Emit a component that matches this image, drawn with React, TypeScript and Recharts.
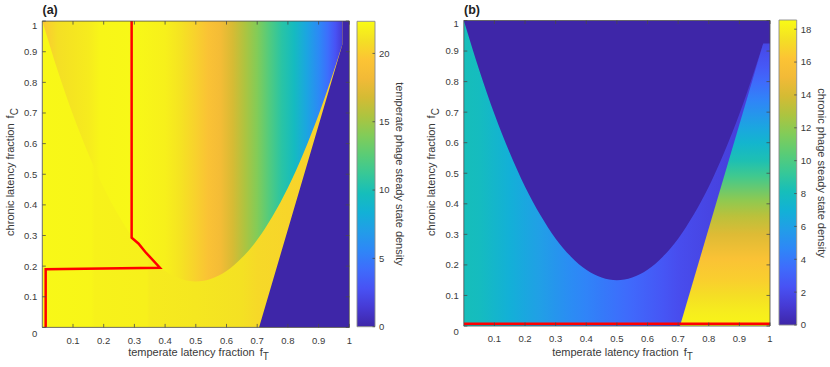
import React from 'react';
import { ComposedChart, Area, Line, XAxis, YAxis, ReferenceLine } from 'recharts';

// ---------------- data ----------------
// boundary of the "high chronic latency" region (same in both panels)
const parabolaX = [0, 0.05, 0.1, 0.15, 0.2, 0.25, 0.3, 0.35, 0.4, 0.45, 0.5, 0.55, 0.6, 0.65, 0.7, 0.75, 0.8, 0.85, 0.9, 0.95, 0.978];
const parabolaY = [1.0, 0.839, 0.694, 0.567, 0.456, 0.363, 0.286, 0.227, 0.184, 0.159, 0.15, 0.159, 0.184, 0.227, 0.286, 0.363, 0.456, 0.567, 0.694, 0.839, 0.925];
// straight boundary (lower right region)
const cutLineX = [0.706, 0.978];
const cutLineY = [0, 0.925];

const xTicks = [0.1, 0.2, 0.3, 0.4, 0.5, 0.6, 0.7, 0.8, 0.9, 1];
const yTicks = [0, 0.1, 0.2, 0.3, 0.4, 0.5, 0.6, 0.7, 0.8, 0.9, 1];

// panel (a): temperate phage density
const aInsideX = [0, 0.02, 0.05, 0.1, 0.15, 0.19, 0.3, 0.4, 0.45, 0.5, 0.54, 0.58, 0.62, 0.66, 0.7, 0.74, 0.78, 0.82, 0.86, 0.9, 0.93, 0.955, 0.978];
const aInsideV = [19.6, 20.2, 20.9, 21.2, 21.5, 22.1, 22.2, 21.8, 21.1, 20.2, 19.3, 18.4, 16.9, 15.4, 14.0, 12.2, 10.6, 9.5, 7.6, 5.8, 4.3, 2.8, 1.4];
const aOutsideX = [0, 0.16, 0.17, 0.34, 0.35, 0.5, 0.65, 0.7, 0.8, 0.95, 1];
const aOutsideV = [22.2, 22.1, 21.9, 21.8, 21.5, 21.3, 21.0, 20.6, 20.4, 20.2, 20.2];
const aDarkV = 0;
const aContourX = [0.011, 0.011, 0.383, 0.335, 0.313, 0.291, 0.291];
const aContourY = [0, 0.19, 0.195, 0.247, 0.274, 0.293, 1];
const aColorMax = 22.35;
const aColorTicks = [0, 5, 10, 15, 20];

// panel (b): chronic phage density
const bOutsideX = [0, 0.05, 0.1, 0.15, 0.2, 0.25, 0.3, 0.35, 0.4, 0.45, 0.5, 0.55, 0.6, 0.65, 0.7, 0.8, 0.9, 0.978];
const bOutsideV = [8.1, 7.9, 7.4, 6.9, 6.4, 5.9, 5.4, 4.9, 4.5, 4.1, 3.7, 3.3, 2.9, 2.5, 2.1, 1.7, 1.4, 1.1];
const bRightY = [0, 0.05, 0.1, 0.15, 0.22, 0.3, 0.36, 0.41, 0.49, 0.54, 0.6, 0.65, 0.74, 0.8, 0.85, 0.925];
const bRightV = [18.3, 17.9, 17.3, 16.7, 16.0, 14.3, 13.2, 12.0, 9.6, 8.4, 7.3, 6.3, 4.5, 3.4, 2.6, 1.8];
const bInsideV = 0;
const bContourX = [0, 1];
const bContourY = [0.007, 0.007];
const bColorMax = 18.56;
const bColorTicks = [0, 2, 4, 6, 8, 10, 12, 14, 16, 18];

// ---------------- styling helpers ----------------
const FONT = '"Liberation Sans", Arial, Helvetica, sans-serif';
const AX = '#4a4a4a';
const TXT = '#3a3a3a';

const PARULA: number[][] = [
  [62, 38, 168], [70, 58, 212], [72, 82, 244], [62, 108, 252], [46, 135, 247],
  [34, 157, 232], [18, 177, 214], [22, 190, 186], [55, 200, 151], [90, 204, 118],
  [129, 204, 89], [172, 196, 64], [212, 187, 52], [242, 186, 55], [252, 196, 52],
  [244, 224, 36], [249, 251, 21],
];
function parula(t: number): string {
  const c = Math.max(0, Math.min(1, t)) * (PARULA.length - 1);
  const i = Math.min(PARULA.length - 2, Math.floor(c));
  const f = c - i;
  const a = PARULA[i], b = PARULA[i + 1];
  const r = Math.round(a[0] + (b[0] - a[0]) * f);
  const g = Math.round(a[1] + (b[1] - a[1]) * f);
  const bl = Math.round(a[2] + (b[2] - a[2]) * f);
  return `rgb(${r},${g},${bl})`;
}
function stops(pos: number[], vals: number[], vmax: number, p0: number, p1: number) {
  return pos.map((p, i) => (
    <stop key={i} offset={(p - p0) / (p1 - p0)} stopColor={parula(vals[i] / vmax)} />
  ));
}
const fmt = (v: number) => String(Math.round(v * 10) / 10);

const makeXTick = (plotH: number) => (props: any) => {
  const { x, y, payload } = props;
  return (
    <g>
      <line x1={x} y1={y} x2={x} y2={y - 3.5} stroke={AX} strokeWidth={0.8} />
      <line x1={x} y1={y - plotH} x2={x} y2={y - plotH + 3.5} stroke={AX} strokeWidth={0.8} />
      <text x={x} y={y + 16.2} textAnchor="middle" fontSize={9.5} fill={TXT} fontFamily={FONT}>{fmt(payload.value)}</text>
    </g>
  );
};
const makeYTick = (plotW: number, zeroDy: number, oneDy: number) => (props: any) => {
  const { x, y, payload } = props;
  const v = payload.value;
  const dy = v === 0 ? zeroDy : v === 1 ? oneDy : 0;
  return (
    <g>
      <line x1={x} y1={y} x2={x + 3.5} y2={y} stroke={AX} strokeWidth={0.8} />
      <line x1={x + plotW} y1={y} x2={x + plotW - 3.5} y2={y} stroke={AX} strokeWidth={0.8} />
      <text x={x - 5} y={y + dy + 3.4} textAnchor="end" fontSize={9.5} fill={TXT} fontFamily={FONT}>{fmt(v)}</text>
    </g>
  );
};
const CbTick = (props: any) => {
  const { x, y, payload } = props;
  return (
    <g>
      <line x1={x} y1={y} x2={x - 2.5} y2={y} stroke={AX} strokeWidth={0.8} />
      <text x={x + 4} y={y + 3.4} textAnchor="start" fontSize={9.5} fill={TXT} fontFamily={FONT}>{payload.value}</text>
    </g>
  );
};

// ---------------- derived tables ----------------
const fullRect = [{ x: 0, r: [0, 1] }, { x: 1, r: [0, 1] }];
const insideArea = parabolaX.map((x, i) => ({ x, r: [parabolaY[i], 1] }));
const belowArea = parabolaX.map((x, i) => ({ x, r: [0, parabolaY[i]] }));
const cutPts = cutLineX.map((x, i) => ({ x, r: [0, cutLineY[i]] }));
const darkA = [...cutPts, { x: cutLineX[1], r: [0, 1] }, { x: 1, r: [0, 1] }];
const rightB = [...cutPts, { x: 1, r: [0, cutLineY[1]] }];
const contourA = aContourX.map((x, i) => ({ x, y: aContourY[i] }));
const contourB = bContourX.map((x, i) => ({ x, y: bContourY[i] }));
const cbStops = (id: string) => (
  <linearGradient id={id} x1="0" y1="1" x2="0" y2="0">
    {PARULA.map((_, i) => (
      <stop key={i} offset={i / (PARULA.length - 1)} stopColor={parula(i / (PARULA.length - 1))} />
    ))}
  </linearGradient>
);

const A_W = 307, A_H = 306.3;
const B_W = 306.2, B_H = 305.5;

function PanelA() {
  return (
    <ComposedChart width={420} height={367} margin={{ top: 21.1, right: 70.7, bottom: 0, left: 0 }}>
      <defs>
        <linearGradient id="aOut" x1="0" y1="0" x2="1" y2="0">{stops(aOutsideX, aOutsideV, aColorMax, 0, 1)}</linearGradient>
        <linearGradient id="aIn" x1="0" y1="0" x2="1" y2="0">{stops(aInsideX, aInsideV, aColorMax, 0, parabolaX[parabolaX.length - 1])}</linearGradient>
      </defs>
      <Area data={fullRect} dataKey="r" type="linear" fill="url(#aOut)" fillOpacity={1} stroke="none" isAnimationActive={false} dot={false} activeDot={false} />
      <Area data={insideArea} dataKey="r" type="monotone" fill="url(#aIn)" fillOpacity={1} stroke="none" isAnimationActive={false} dot={false} activeDot={false} />
      <Area data={darkA} dataKey="r" type="linear" fill={parula(aDarkV / aColorMax)} fillOpacity={1} stroke="none" isAnimationActive={false} dot={false} activeDot={false} />
      <Line data={contourA} dataKey="y" type="linear" stroke="#ff0000" strokeWidth={2.5} dot={false} activeDot={false} isAnimationActive={false} />
      <ReferenceLine y={1} stroke={AX} strokeWidth={0.8} />
      <ReferenceLine x={1} stroke={AX} strokeWidth={0.8} />
      <XAxis dataKey="x" type="number" domain={[0, 1]} allowDataOverflow ticks={xTicks} interval={0} height={39.6}
        tickSize={0} tickMargin={0} tickLine={false} axisLine={{ stroke: AX, strokeWidth: 0.8 }} tick={makeXTick(A_H)} />
      <YAxis type="number" domain={[0, 1]} allowDataOverflow ticks={yTicks} interval={0} width={42.3}
        tickSize={0} tickMargin={0} tickLine={false} axisLine={{ stroke: AX, strokeWidth: 0.8 }} tick={makeYTick(A_W, 6.4, 4.6)} />
    </ComposedChart>
  );
}

function PanelB() {
  return (
    <ComposedChart width={410} height={367} margin={{ top: 20.5, right: 60, bottom: 0, left: 0 }}>
      <defs>
        <linearGradient id="bOut" x1="0" y1="0" x2="1" y2="0">{stops(bOutsideX, bOutsideV, bColorMax, 0, parabolaX[parabolaX.length - 1])}</linearGradient>
        <linearGradient id="bRight" x1="0" y1="1" x2="0" y2="0">{stops(bRightY, bRightV, bColorMax, 0, cutLineY[1])}</linearGradient>
      </defs>
      <Area data={fullRect} dataKey="r" type="linear" fill={parula(bInsideV / bColorMax)} fillOpacity={1} stroke="none" isAnimationActive={false} dot={false} activeDot={false} />
      <Area data={belowArea} dataKey="r" type="monotone" fill="url(#bOut)" fillOpacity={1} stroke="none" isAnimationActive={false} dot={false} activeDot={false} />
      <Area data={rightB} dataKey="r" type="linear" fill="url(#bRight)" fillOpacity={1} stroke="none" isAnimationActive={false} dot={false} activeDot={false} />
      <Line data={contourB} dataKey="y" type="linear" stroke="#ff0000" strokeWidth={2.5} dot={false} activeDot={false} isAnimationActive={false} />
      <ReferenceLine y={1} stroke={AX} strokeWidth={0.8} />
      <ReferenceLine x={1} stroke={AX} strokeWidth={0.8} />
      <XAxis dataKey="x" type="number" domain={[0, 1]} allowDataOverflow ticks={xTicks} interval={0} height={41}
        tickSize={0} tickMargin={0} tickLine={false} axisLine={{ stroke: AX, strokeWidth: 0.8 }} tick={makeXTick(B_H)} />
      <YAxis type="number" domain={[0, 1]} allowDataOverflow ticks={yTicks} interval={0} width={43.8}
        tickSize={0} tickMargin={0} tickLine={false} axisLine={{ stroke: AX, strokeWidth: 0.8 }} tick={makeYTick(B_W, 6.0, 3.5)} />
    </ComposedChart>
  );
}

function ColorBar({ id, max, ticks, width, left, top, bottom, axisW }: any) {
  const bar = [{ x: 0, r: [0, max] }, { x: 1, r: [0, max] }];
  return (
    <ComposedChart width={width} height={367} margin={{ top, right: 0, bottom, left }}>
      <defs>{cbStops(id)}</defs>
      <Area data={bar} dataKey="r" type="linear" fill={`url(#${id})`} fillOpacity={1} stroke="none" isAnimationActive={false} dot={false} activeDot={false} />
      <ReferenceLine x={0} stroke="#8a8a8a" strokeWidth={0.9} />
      <ReferenceLine x={1} stroke="#8a8a8a" strokeWidth={0.9} />
      <ReferenceLine y={0} stroke="#8a8a8a" strokeWidth={0.9} />
      <ReferenceLine y={max} stroke="#8a8a8a" strokeWidth={0.9} />
      <XAxis type="number" dataKey="x" domain={[0, 1]} allowDataOverflow hide />
      <YAxis orientation="right" type="number" domain={[0, max]} allowDataOverflow ticks={ticks} interval={0} width={axisW}
        tickSize={0} tickMargin={0} tickLine={false} axisLine={false} tick={CbTick} />
    </ComposedChart>
  );
}

export default function App() {
  const abs = (left: number): React.CSSProperties => ({ position: 'absolute', left, top: 0 });
  return (
    <div style={{ position: 'absolute', left: 0, top: 0, width: 830, height: 367, background: '#fff', fontFamily: FONT }}>
      <div style={abs(0)}><PanelA /></div>
      <div style={abs(340)}><ColorBar id="cbA" max={aColorMax} ticks={aColorTicks} width={80} left={17} top={21.3} bottom={40.3} axisW={45} /></div>
      <div style={abs(420)}><PanelB /></div>
      <div style={abs(760)}><ColorBar id="cbB" max={bColorMax} ticks={bColorTicks} width={70} left={19} top={20} bottom={42} axisW={33.3} /></div>
      <svg width={830} height={367} style={{ position: 'absolute', left: 0, top: 0, pointerEvents: 'none' }} fontFamily={FONT}>
        <text x={42.5} y={13.5} fontSize={12.5} fontWeight="bold" fill="#222">(a)</text>
        <text x={464} y={13.5} fontSize={12.5} fontWeight="bold" fill="#222">(b)</text>
        <text x={198.5} y={356} fontSize={11} fill={TXT} textAnchor="middle">
          temperate latency fraction<tspan dx={5}>f</tspan><tspan dy={4} fontSize={10}>T</tspan>
        </text>
        <text x={622.5} y={356} fontSize={11} fill={TXT} textAnchor="middle">
          temperate latency fraction<tspan dx={5}>f</tspan><tspan dy={4} fontSize={10}>T</tspan>
        </text>
        <text transform="translate(14,172) rotate(-90)" fontSize={11} fill={TXT} textAnchor="middle">
          chronic latency fraction<tspan dx={5}>f</tspan><tspan dy={4} fontSize={10}>C</tspan>
        </text>
        <text transform="translate(435,172) rotate(-90)" fontSize={11} fill={TXT} textAnchor="middle">
          chronic latency fraction<tspan dx={5}>f</tspan><tspan dy={4} fontSize={10}>C</tspan>
        </text>
        <text transform="translate(395.5,174) rotate(90)" fontSize={11} fill={TXT} textAnchor="middle">temperate phage steady state density</text>
        <text transform="translate(818,173) rotate(90)" fontSize={11} fill={TXT} textAnchor="middle">chronic phage steady state density</text>
      </svg>
    </div>
  );
}
